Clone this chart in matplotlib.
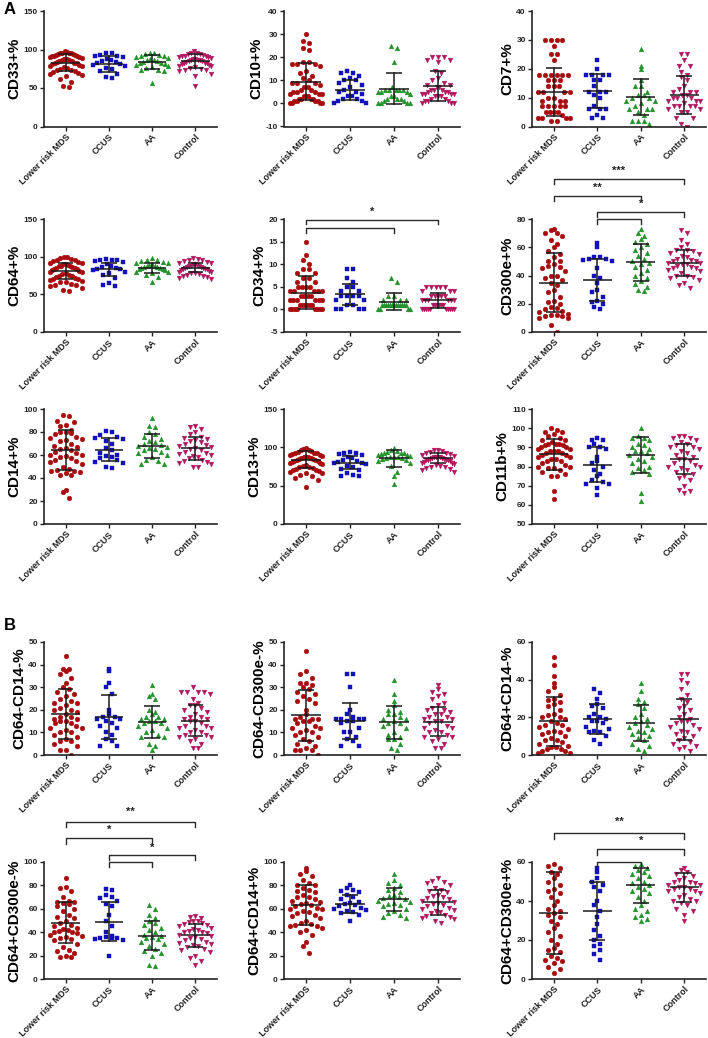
import matplotlib
matplotlib.use('Agg')
import matplotlib.pyplot as plt
import numpy as np

plt.rcParams['font.family'] = ['Liberation Sans', 'DejaVu Sans']
plt.rcParams['font.weight'] = 'bold'

groups = ['Lower risk MDS', 'CCUS', 'AA', 'Control']
colors = ['#A80C0C', '#1212B8', '#23922A', '#B0175E']
markers = ['o', 's', '^', 'v']

# ---------------- data ----------------
cd33_mds = [98,97,96,96,95,95,94,94,93,93,92,92,91,90,90,89,88,88,87,86,85,85,84,83,82,82,81,80,79,78,77,76,75,74,73,72,71,70,68,67,65,62,58,52,51]
cd33_ccus = [96,95,93,92,91,90,88,87,85,84,82,81,80,78,76,75,72,68,64,63]
cd33_aa = [96,95,94,93,92,91,90,89,88,87,86,85,84,83,82,81,80,78,77,76,74,73,72,57]
cd33_ctrl = [98,96,95,94,94,93,92,92,91,90,90,89,88,88,87,86,86,85,85,84,83,82,82,81,80,79,78,77,76,75,74,73,72,68,66,53]
cd33_mean = [83, 81, 84, 85]
cd33_sd = [11, 10, 9.5, 9]

cd10_mds = [30,27,26,24,23,18,18,17,17,17,16,14,13,12,11,10,9,9,9,8,7,7,6,6,5,5,5,4,4,4,3,3,3,2,2,2,2,1,1,1,1,0,0,0,0]
cd10_ccus = [14,13,13,12,11,10,10,9,8,7,6,5,5,4,3,3,2,2,1,1,0,0]
cd10_aa = [25,24,18,7,6,6,6,6,6,5,5,5,4,3,3,2,2,2,1,1,0,0,0,0]
cd10_ctrl = [20,20,20,19,19,18,14,13,11,10,9,8,8,7,7,6,6,6,5,5,5,4,4,4,4,3,3,3,2,2,1,1,1,0,0,0]
cd10_mean = [9.3, 5.8, 6.3, 7.7]
cd10_sd = [8, 4.3, 6.7, 6.5]

cd7_mds = [30,30,30,30,28,25,25,23,18,18,18,18,18,18,16,16,16,14,14,14,12,12,12,12,10,10,9,9,9,7,7,7,7,7,5,5,5,5,4,3,3,3,3,2,2]
cd7_ccus = [23,20,18,18,18,18,16,16,14,12,12,12,11,10,7,6,6,6,4,3,3]
cd7_aa = [27,21,20,16,14,14,12,11,11,10,10,9,9,8,7,6,6,6,5,4,2,2,2,1]
cd7_ctrl = [25,25,23,21,21,19,18,17,16,14,13,12,12,12,11,11,10,10,10,9,9,9,8,7,7,7,7,6,6,5,5,3,3,1,0]
cd7_mean = [12, 12.3, 10.3, 11]
cd7_sd = [8.2, 6, 6.3, 6.5]

cd64_mds = [100,99,98,97,96,95,94,93,92,91,90,90,89,88,88,87,86,85,85,84,83,82,81,80,79,78,77,76,75,74,73,72,71,70,69,68,67,66,64,63,62,61,58,56,54]
cd64_ccus = [97,96,96,95,94,93,90,88,86,85,84,83,82,80,78,76,72,65,63,61]
cd64_aa = [98,96,95,94,93,92,91,90,89,88,87,86,86,85,85,84,83,82,80,79,78,76,73,67]
cd64_ctrl = [98,97,96,95,94,93,92,91,90,90,89,88,88,87,86,86,85,85,84,84,83,82,81,80,79,78,78,77,76,75,74,73,72,71]
cd64_mean = [81, 83, 85, 85]
cd64_sd = [11, 9, 7, 6]

cd34_mds = [15,12,11,10,9,9,8,8,7,7,6,6,5,5,5,5,4,4,4,4,4,3,3,3,3,2,2,2,2,2,2,1,1,1,1,1,1,0,0,0,0,0,0,0,0]
cd34_ccus = [9,9,7,6,5,5,4,4,3,3,3,3,2,2,1,1,0,0,0,0]
cd34_aa = [7,6,3,3,2,2,2,1,1,1,1,1,1,1,1,1,0,0,0,0,1,1,1,1]
cd34_ctrl = [5,5,5,5,5,4,4,4,3,3,3,3,3,2,2,2,2,2,2,1,1,1,1,1,1,0,0,0,0,0,0,0,0,0,0]
cd34_mean = [3.7, 3.3, 1.7, 2.0]
cd34_sd = [3.6, 2.4, 1.9, 1.6]

cd300e_mds = [73,72,70,70,68,65,62,60,57,55,53,50,50,48,47,46,45,43,40,40,38,37,35,33,30,28,25,22,21,20,18,17,16,15,14,13,12,12,11,11,10,10,5,0]
cd300e_ccus = [63,60,53,53,52,52,51,50,45,40,38,35,30,28,25,22,21,20,18,16]
cd300e_aa = [73,70,68,66,64,62,60,58,56,54,52,50,49,48,46,44,42,40,38,36,34,32,30,29]
cd300e_ctrl = [72,70,65,62,60,58,58,57,56,55,54,53,52,51,50,50,49,49,48,48,47,46,45,45,44,43,42,40,40,39,38,37,35,33,31]
cd300e_mean = [35, 36.8, 49.3, 48.7]
cd300e_sd = [21, 15.2, 13.3, 9.3]

cd14_mds = [95,94,90,89,86,85,82,80,80,79,78,76,75,74,73,72,70,68,67,66,65,64,63,62,60,60,59,58,57,56,55,54,52,50,48,47,46,46,45,44,43,43,30,28,23]
cd14_ccus = [81,80,77,76,75,74,72,70,66,64,62,60,59,58,57,56,54,53,50,49]
cd14_aa = [92,85,84,80,78,76,74,72,71,70,69,68,67,66,65,64,63,62,60,58,56,55,52,52]
cd14_ctrl = [85,84,83,80,78,76,75,74,73,72,71,70,69,68,67,66,65,64,63,62,61,60,59,58,57,56,55,54,53,52,50,50]
cd14_mean = [64.3, 64.4, 68, 65.9]
cd14_sd = [17.2, 10, 10.5, 10.1]

cd13_mds = [99,98,97,96,95,94,93,93,92,91,90,90,89,88,88,87,86,86,85,85,84,83,82,82,81,80,79,78,77,76,75,74,73,72,71,70,69,68,67,66,64,62,60,57,48]
cd13_ccus = [94,93,92,91,90,88,86,84,82,81,80,79,78,76,74,72,70,66,64,62,62]
cd13_aa = [99,96,95,94,93,93,92,91,90,90,89,88,88,87,86,86,85,84,82,80,76,68,63,52]
cd13_ctrl = [97,96,95,94,93,92,91,90,89,88,88,87,87,86,86,85,85,84,84,83,83,82,81,80,79,78,77,76,75,74,73,72,70,68]
cd13_mean = [84, 80, 86, 85.5]
cd13_sd = [11, 8.5, 11, 6.5]

cd11b_mds = [100,99,98,98,97,96,95,94,94,93,92,92,92,91,91,90,90,89,89,88,88,88,87,87,86,86,85,85,84,84,83,83,82,81,80,80,79,79,78,77,76,75,75,67,63]
cd11b_ccus = [95,94,94,92,90,90,89,85,83,82,80,78,76,75,73,72,71,71,69,65]
cd11b_aa = [100,96,95,95,94,92,91,90,89,88,88,87,86,85,84,83,82,80,79,78,77,76,66,62]
cd11b_ctrl = [96,96,95,95,94,93,92,91,90,90,89,88,87,86,85,84,84,83,82,81,80,80,79,78,77,76,75,74,73,70,68,67,66]
cd11b_mean = [86.3, 81, 86, 84]
cd11b_sd = [8, 9, 9.2, 7.9]

cd64n14n_mds = [44,38,38,37,36,34,32,30,29,28,27,26,25,24,23,23,22,21,20,20,19,18,17,17,16,16,15,15,14,14,13,12,12,11,10,10,9,8,7,6,6,5,4,2,2,0]
cd64n14n_ccus = [38,37,32,30,27,20,18,17,17,16,16,15,14,13,12,10,9,7,6,4,4]
cd64n14n_aa = [31,27,26,25,20,19,18,17,17,16,16,15,15,14,14,13,12,11,10,9,8,8,5,4,2]
cd64n14n_ctrl = [30,28,28,28,28,27,25,23,22,22,21,20,19,18,17,17,16,16,15,15,14,13,13,12,12,11,10,10,9,9,8,8,7,6,5,3,3]
cd64n14n_mean = [18, 16.8, 14.5, 15.2]
cd64n14n_sd = [11, 9.6, 7, 7]

cd64n300n_mds = [46,37,36,34,32,32,31,30,29,28,27,26,25,24,23,20,18,17,16,16,16,15,15,14,13,12,12,11,10,10,9,8,7,6,5,4,3,2,2,2,0]
cd64n300n_ccus = [36,36,30,20,18,17,16,16,16,16,15,15,14,12,10,10,8,7,6,4,4]
cd64n300n_aa = [33,27,24,22,20,19,18,18,17,16,16,15,14,14,13,12,10,9,8,7,7,5,3,2]
cd64n300n_ctrl = [31,29,28,27,26,25,23,22,21,20,20,19,18,18,17,17,16,16,15,15,14,13,12,12,11,10,10,9,8,8,7,6,5,3,3]
cd64n300n_mean = [17.5, 15, 14.5, 14.8]
cd64n300n_sd = [11.3, 8, 7.3, 6.6]

cd64p14n_mds = [52,48,42,38,36,34,32,30,29,28,27,26,24,22,21,20,20,19,18,17,16,16,15,14,13,12,12,11,10,9,8,8,7,6,5,4,4,3,3,2,2,1,1]
cd64p14n_ccus = [35,33,30,27,26,25,22,20,20,19,18,18,17,15,14,13,12,12,10,8,6]
cd64p14n_aa = [38,34,30,28,27,25,22,20,19,18,17,16,15,14,13,12,11,10,9,8,6,5,3,2]
cd64p14n_ctrl = [43,43,40,38,35,32,30,28,26,25,24,22,20,19,18,18,17,16,15,14,13,12,11,10,9,8,7,6,5,4,3,2]
cd64p14n_mean = [18, 19, 17, 19]
cd64p14n_sd = [13, 8, 9.5, 11]

cd64p300n_mds = [86,79,78,75,70,67,66,66,65,64,62,60,58,55,53,52,50,48,46,45,44,43,42,41,40,40,39,38,37,36,35,34,33,30,27,25,24,22,20,19,19]
cd64p300n_ccus = [77,76,72,70,69,67,64,62,55,50,45,40,37,36,35,35,35,34,33,20]
cd64p300n_aa = [63,60,55,52,50,48,46,44,42,40,38,37,36,35,34,32,30,28,26,24,22,20,12,11]
cd64p300n_ctrl = [54,53,52,50,50,49,48,47,46,45,44,43,42,41,40,40,39,38,37,36,35,34,33,32,31,30,29,28,27,26,25,23,20,18,15,12]
cd64p300n_mean = [48, 49, 37, 37.5]
cd64p300n_sd = [17.5, 16.5, 12.5, 9.8]

cd64p14p_mds = [95,92,90,88,85,82,80,80,78,76,75,74,72,70,70,68,67,66,65,64,63,62,61,60,60,58,57,56,55,54,52,50,48,47,46,45,45,44,42,40,38,32,28,22]
cd64p14p_ccus = [80,78,76,75,74,72,70,68,66,65,64,63,62,61,60,59,58,57,56,55,50]
cd64p14p_aa = [90,85,82,80,78,76,74,72,71,70,69,68,67,66,65,64,63,62,60,58,56,55,53,52]
cd64p14p_ctrl = [86,84,83,82,80,78,76,75,74,72,71,70,69,68,67,66,65,64,63,62,61,60,59,58,57,56,55,54,53,52,51,50,48]
cd64p14p_mean = [63, 64, 68, 65.5]
cd64p14p_sd = [17, 8, 10, 10.5]

cd64p300p_mds = [59,58,57,55,54,52,50,48,46,45,44,42,40,38,36,35,34,33,32,30,28,26,24,22,20,18,16,15,14,12,11,10,9,8,6,5,3]
cd64p300p_ccus = [57,55,52,50,48,47,45,40,38,35,32,28,25,22,20,18,17,15,13,10]
cd64p300p_aa = [59,58,57,56,55,54,53,52,50,49,48,47,46,45,44,42,40,38,36,35,33,32,31,30]
cd64p300p_ctrl = [57,56,55,54,53,52,51,50,50,49,48,48,47,47,46,46,45,45,44,43,42,41,40,40,39,38,36,35,33,30]
cd64p300p_mean = [34, 35, 48, 47]
cd64p300p_sd = [21, 15, 9, 7.5]

# significance brackets: (x0, x1, y_line, y_tick_end, label, label_x, label_y)
cd34_sig = [(0, 3, 19.85, 18.9, '*', 1.5, 21.6), (0, 2, 18.0, 16.9, '', 0, 0)]
cd300e_sig = [(0, 3, 108, 104.5, '***', 1.5, 114), (0, 2, 96.6, 93, '**', 1.0, 102),
              (1, 3, 85, 81.4, '*', 2.0, 91), (1, 2, 80, 76.4, '', 0, 0)]
cd64p300n_sig = [(0, 3, 134, 129.5, '**', 1.5, 143), (0, 2, 120.5, 115.5, '*', 1.0, 127.5),
                 (1, 3, 106, 101.5, '*', 2.0, 112.5), (1, 2, 100, 96, '', 0, 0)]
cd64p300p_sig = [(0, 3, 75, 72, '**', 1.5, 80.5), (1, 3, 66.7, 63.6, '*', 2.0, 71),
                 (1, 2, 60, 57.4, '', 0, 0)]

# ---------------- layout ----------------
W, H = 708, 1038
fig = plt.figure(figsize=(W / 100, H / 100), dpi=100)
col_x = [(44, 217), (284, 460), (532, 706)]
row_y = [(11, 126.5), (219, 332), (409, 524), (642, 755), (862, 979)]

panels = [
    (0, 0, 'CD33+%', (0, 150), [0, 50, 100, 150], [cd33_mds, cd33_ccus, cd33_aa, cd33_ctrl], cd33_mean, cd33_sd, []),
    (0, 1, 'CD10+%', (-10, 40), [-10, 0, 10, 20, 30, 40], [cd10_mds, cd10_ccus, cd10_aa, cd10_ctrl], cd10_mean, cd10_sd, []),
    (0, 2, 'CD7+%', (0, 40), [0, 10, 20, 30, 40], [cd7_mds, cd7_ccus, cd7_aa, cd7_ctrl], cd7_mean, cd7_sd, []),
    (1, 0, 'CD64+%', (0, 150), [0, 50, 100, 150], [cd64_mds, cd64_ccus, cd64_aa, cd64_ctrl], cd64_mean, cd64_sd, []),
    (1, 1, 'CD34+%', (-5, 20), [-5, 0, 5, 10, 15, 20], [cd34_mds, cd34_ccus, cd34_aa, cd34_ctrl], cd34_mean, cd34_sd, cd34_sig),
    (1, 2, 'CD300e+%', (0, 80), [0, 20, 40, 60, 80], [cd300e_mds, cd300e_ccus, cd300e_aa, cd300e_ctrl], cd300e_mean, cd300e_sd, cd300e_sig),
    (2, 0, 'CD14+%', (0, 100), [0, 20, 40, 60, 80, 100], [cd14_mds, cd14_ccus, cd14_aa, cd14_ctrl], cd14_mean, cd14_sd, []),
    (2, 1, 'CD13+%', (0, 150), [0, 50, 100, 150], [cd13_mds, cd13_ccus, cd13_aa, cd13_ctrl], cd13_mean, cd13_sd, []),
    (2, 2, 'CD11b+%', (50, 110), [50, 60, 70, 80, 90, 100, 110], [cd11b_mds, cd11b_ccus, cd11b_aa, cd11b_ctrl], cd11b_mean, cd11b_sd, []),
    (3, 0, 'CD64-CD14-%', (0, 50), [0, 10, 20, 30, 40, 50], [cd64n14n_mds, cd64n14n_ccus, cd64n14n_aa, cd64n14n_ctrl], cd64n14n_mean, cd64n14n_sd, []),
    (3, 1, 'CD64-CD300e-%', (0, 50), [0, 10, 20, 30, 40, 50], [cd64n300n_mds, cd64n300n_ccus, cd64n300n_aa, cd64n300n_ctrl], cd64n300n_mean, cd64n300n_sd, []),
    (3, 2, 'CD64+CD14-%', (0, 60), [0, 20, 40, 60], [cd64p14n_mds, cd64p14n_ccus, cd64p14n_aa, cd64p14n_ctrl], cd64p14n_mean, cd64p14n_sd, []),
    (4, 0, 'CD64+CD300e-%', (0, 100), [0, 20, 40, 60, 80, 100], [cd64p300n_mds, cd64p300n_ccus, cd64p300n_aa, cd64p300n_ctrl], cd64p300n_mean, cd64p300n_sd, cd64p300n_sig),
    (4, 1, 'CD64+CD14+%', (0, 100), [0, 20, 40, 60, 80, 100], [cd64p14p_mds, cd64p14p_ccus, cd64p14p_aa, cd64p14p_ctrl], cd64p14p_mean, cd64p14p_sd, []),
    (4, 2, 'CD64+CD300e+%', (0, 60), [0, 20, 40, 60], [cd64p300p_mds, cd64p300p_ccus, cd64p300p_aa, cd64p300p_ctrl], cd64p300p_mean, cd64p300p_sd, cd64p300p_sig),
]


def row_spread(vals, ppu_x, ppu_y, diam=5.0, maxhalf=0.37):
    """GraphPad-like layout: points falling in the same horizontal band sit side by side."""
    vals = np.asarray(vals, float)
    rowh = diam * 1.7
    bins = np.floor(vals * ppu_y / rowh).astype(int)
    xs = np.zeros(len(vals))
    for b in np.unique(bins):
        idx = np.where(bins == b)[0]
        idx = idx[np.argsort(-vals[idx], kind='stable')]
        n = len(idx)
        sp = diam * 1.15 / ppu_x
        if n > 1:
            sp = min(sp, 2 * maxhalf / (n - 1))
        slots = (np.arange(n) - (n - 1) / 2.0) * sp
        slots = slots[np.argsort(np.abs(slots) + 1e-6 * np.arange(n), kind='stable')]
        xs[idx] = slots
    return xs


line_col = '#1a1a1a'
for (r, c, ylabel, ylim, yticks, data, means, sds, sig) in panels:
    x0, x1 = col_x[c]
    y0, y1 = row_y[r]
    ax = fig.add_axes([x0 / W, 1 - y1 / H, (x1 - x0) / W, (y1 - y0) / H])
    ax.set_xlim(-0.5, 3.5)
    ax.set_ylim(*ylim)
    ppu_x = (x1 - x0) / 4.0
    ppu_y = (y1 - y0) / (ylim[1] - ylim[0])
    for g, vals in enumerate(data):
        offs = row_spread(vals, ppu_x, ppu_y)
        ms = 3.1 if markers[g] == 's' else 3.4
        ax.plot(g + offs, vals, linestyle='none', marker=markers[g], ms=ms,
                mfc=colors[g], mec=colors[g], mew=0.3, zorder=2)
    for g in range(4):
        m, s = means[g], sds[g]
        ax.plot([g - 0.33, g + 0.33], [m, m], color=line_col, lw=1.1, zorder=3, solid_capstyle='butt')
        ax.plot([g, g], [m - s, m + s], color=line_col, lw=1.1, zorder=3)
        for yy in (m - s, m + s):
            ax.plot([g - 0.18, g + 0.18], [yy, yy], color=line_col, lw=1.1, zorder=3, solid_capstyle='butt')
    for (a, b, yl, yt, lab, lx, ly) in sig:
        ax.plot([a, a, b, b], [yt, yl, yl, yt], color='#2a2a2a', lw=1.0, clip_on=False, zorder=4)
        if lab:
            ax.text(lx, ly, lab, ha='center', va='center', fontsize=8, fontweight='bold',
                    color='#222222', clip_on=False)
    ax.set_yticks(yticks)
    ax.set_yticklabels([str(t) for t in yticks], fontsize=6, fontweight='bold')
    ax.set_xticks(range(4))
    ax.set_xticklabels(groups, rotation=45, ha='right', va='top', rotation_mode='anchor',
                       fontsize=6.5, fontweight='bold')
    ax.set_ylabel(ylabel, fontsize=11, fontweight='bold', labelpad=1.5)
    for sp in ('top', 'right'):
        ax.spines[sp].set_visible(False)
    for sp in ('left', 'bottom'):
        ax.spines[sp].set_linewidth(1.2)
        ax.spines[sp].set_color('#222222')
    ax.tick_params(axis='both', direction='out', length=3, width=1.0, pad=1.5, colors='#222222')
    ax.tick_params(axis='x', pad=1)

fig.text(4 / W, 1 - 10 / H, 'A', fontsize=12, fontweight='bold', va='center', ha='left')
fig.text(4 / W, 1 - 625 / H, 'B', fontsize=12, fontweight='bold', va='center', ha='left')

fig.savefig('out.png', dpi=100)
